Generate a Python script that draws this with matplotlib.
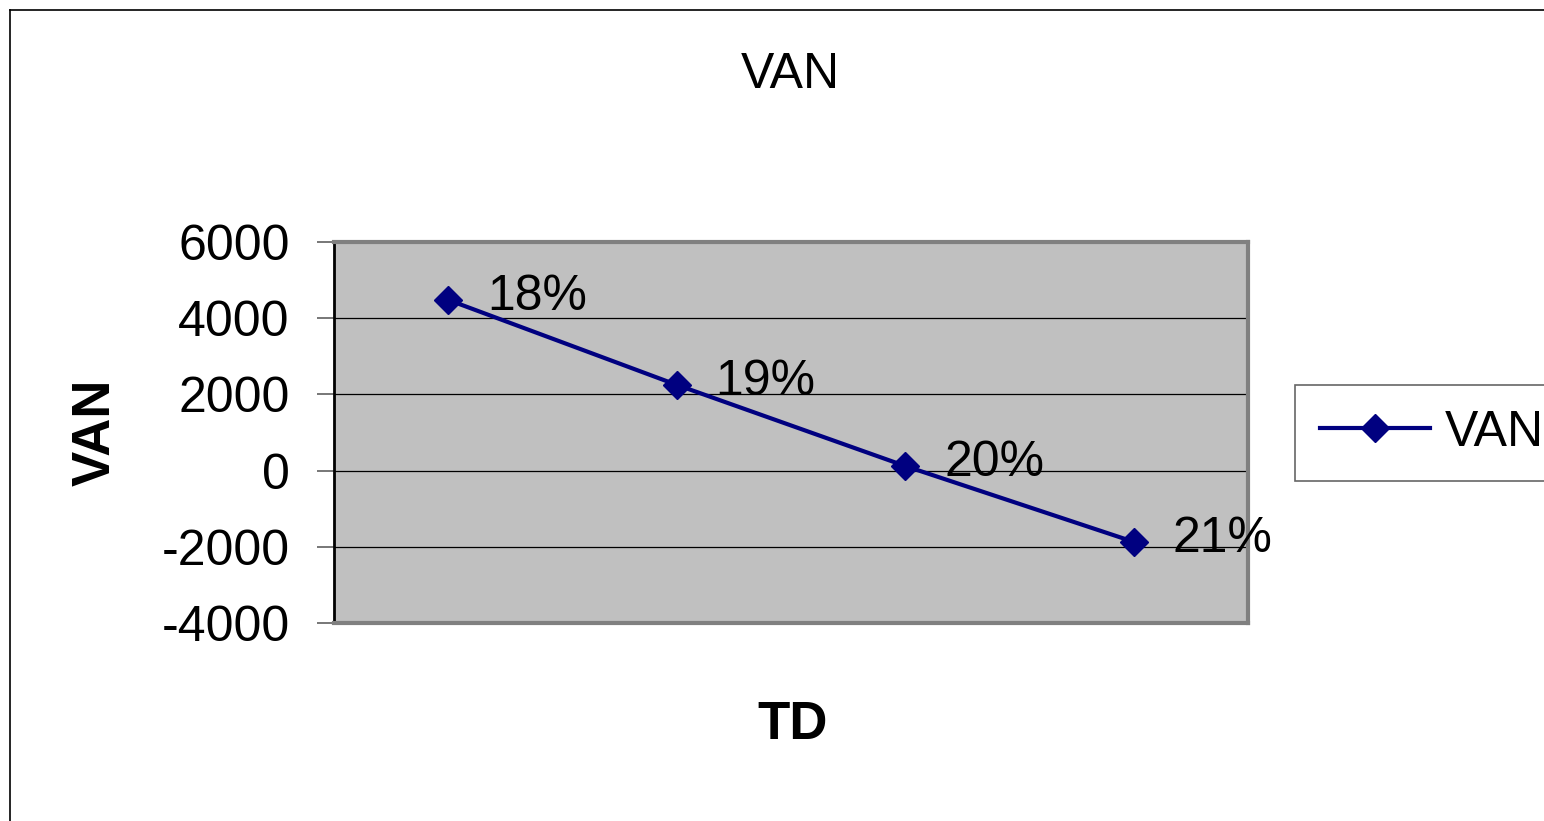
import matplotlib
matplotlib.use("Agg")
import matplotlib.pyplot as plt
from matplotlib.lines import Line2D

categories = ["18%", "19%", "20%", "21%"]
van_values = [4480, 2250, 120, -1870]
y_ticks = [-4000, -2000, 0, 2000, 4000, 6000]

plt.rcParams['font.family'] = ['Liberation Sans', 'DejaVu Sans']

W, H = 1544, 821
fig = plt.figure(figsize=(W / 100, H / 100), dpi=100)
ax = fig.add_axes([334 / W, 1 - 623 / H, (1248 - 334) / W, (623 - 242) / H])

x = list(range(1, len(categories) + 1))
line, = ax.plot(x, van_values, color="#000080", lw=3, marker="D", ms=14,
                markerfacecolor="#000080", markeredgecolor="#000080", label="VAN", zorder=3)

for xi, yi, lab in zip(x, van_values, categories):
    ax.annotate(lab, (xi, yi), xytext=(28, 2), textcoords="offset points",
                ha="left", va="center", fontsize=36, color="black", zorder=4)

ax.set_xlim(0.5, len(categories) + 0.5)
ax.set_ylim(-4000, 6000)
ax.set_yticks(y_ticks)
ax.set_yticklabels([str(t) for t in y_ticks], fontsize=36)
ax.set_xticks([])
ax.tick_params(axis="y", direction="out", length=12, width=1.2, pad=20, color="#606060")
ax.set_facecolor("#C0C0C0")
ax.yaxis.grid(True, color="black", lw=0.9)
ax.set_axisbelow(True)
for side in ["top", "right", "bottom"]:
    ax.spines[side].set_color("#808080")
    ax.spines[side].set_linewidth(3)
ax.spines["left"].set_color("black")
ax.spines["left"].set_linewidth(2)

ax.set_ylabel("VAN", fontsize=38, fontweight="bold")
ax.yaxis.set_label_coords(-(334 - 121) / (1248 - 334), 0.5)
fig.text(793 / W, 1 - 725 / H, "TD", fontsize=38, fontweight="bold", ha="center", va="center")
fig.text(790 / W, 1 - 75 / H, "VAN", fontsize=36, ha="center", va="center")

leg = fig.legend(handles=[line], loc="center left", bbox_to_anchor=(1295 / W, 1 - 433 / H),
                 fontsize=36, frameon=True, fancybox=False, handlelength=2.2,
                 handletextpad=0.3, borderpad=0.5, borderaxespad=0)
leg.get_frame().set_edgecolor("#404040")
leg.get_frame().set_linewidth(1.2)

fig.add_artist(Line2D([10 / W, 10 / W], [0, 1 - 10 / H], color="black", lw=1.2, transform=fig.transFigure))
fig.add_artist(Line2D([10 / W, 1], [1 - 10 / H, 1 - 10 / H], color="black", lw=1.2, transform=fig.transFigure))

fig.savefig("out.png", dpi=100)
